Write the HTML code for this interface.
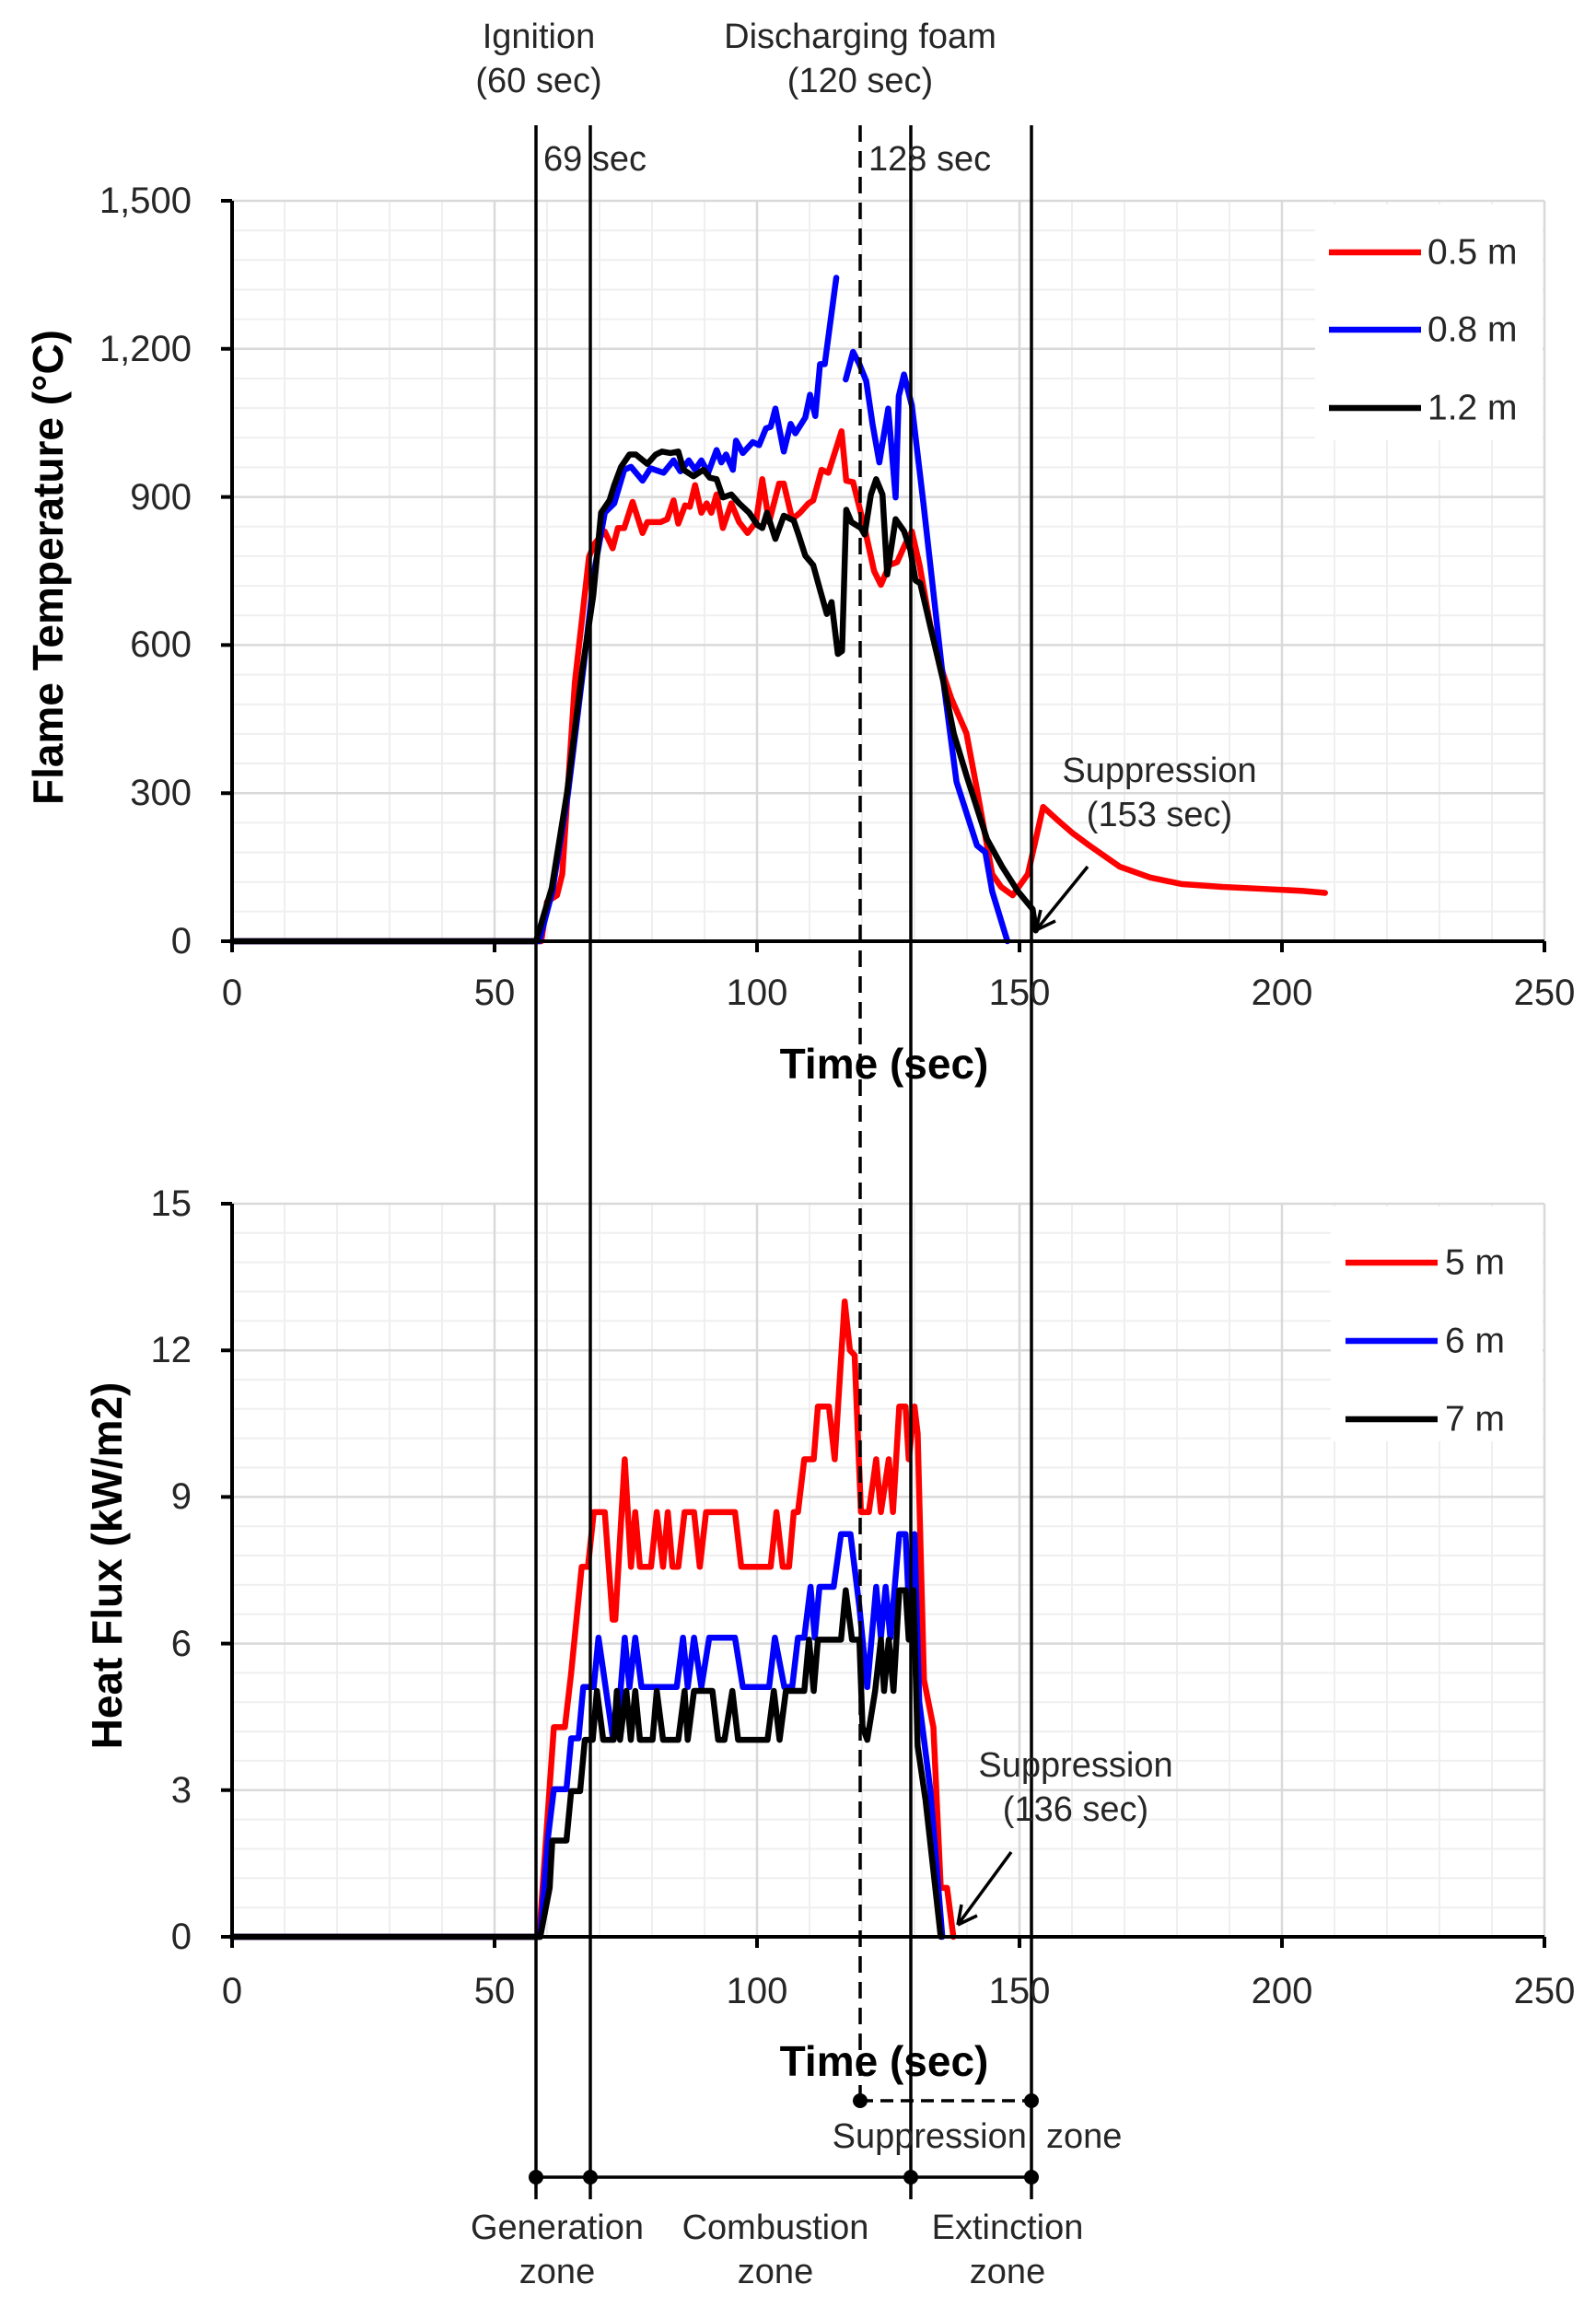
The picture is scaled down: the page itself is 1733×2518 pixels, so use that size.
<!DOCTYPE html>
<html><head><meta charset="utf-8"><style>
html,body{margin:0;padding:0;background:#fff;}
svg{display:block;font-family:"Liberation Sans",Arial,sans-serif;}
</style></head><body>
<svg width="1733" height="2518" viewBox="0 0 1733 2518" xmlns="http://www.w3.org/2000/svg">
<!-- TOP GRID -->
<g stroke="#efefef" stroke-width="2" fill="none">
<path d="M309 218V1022M366 218V1022M423 218V1022M480 218V1022M594 218V1022M651 218V1022M708 218V1022M765 218V1022M879 218V1022M936 218V1022M993 218V1022M1050 218V1022M1164 218V1022M1221 218V1022M1278 218V1022M1335 218V1022M1449 218V1022M1506 218V1022M1563 218V1022M1620 218V1022"/>
<path d="M252 989.8H1677M252 957.7H1677M252 925.5H1677M252 893.4H1677M252 829H1677M252 796.9H1677M252 764.7H1677M252 732.6H1677M252 668.2H1677M252 636.1H1677M252 603.9H1677M252 571.8H1677M252 507.4H1677M252 475.3H1677M252 443.1H1677M252 411H1677M252 346.6H1677M252 314.5H1677M252 282.3H1677M252 250.2H1677"/>
</g>
<g stroke="#d9d9d9" stroke-width="2.5" fill="none">
<path d="M537 218V1022M822 218V1022M1107 218V1022M1392 218V1022M1677 218V1022"/>
<path d="M252 861.2H1677M252 700.4H1677M252 539.6H1677M252 378.8H1677M252 218H1677"/>
</g>
<rect x="1428" y="222" width="247" height="256" fill="#fff"/>
<!-- BOTTOM GRID -->
<g stroke="#efefef" stroke-width="2" fill="none">
<path d="M309 1307V2103M366 1307V2103M423 1307V2103M480 1307V2103M594 1307V2103M651 1307V2103M708 1307V2103M765 1307V2103M879 1307V2103M936 1307V2103M993 1307V2103M1050 1307V2103M1164 1307V2103M1221 1307V2103M1278 1307V2103M1335 1307V2103M1449 1307V2103M1506 1307V2103M1563 1307V2103M1620 1307V2103"/>
<path d="M252 2071.2H1677M252 2039.3H1677M252 2007.5H1677M252 1975.6H1677M252 1911.9H1677M252 1880.1H1677M252 1848.2H1677M252 1816.4H1677M252 1752.7H1677M252 1720.9H1677M252 1689H1677M252 1657.2H1677M252 1593.5H1677M252 1561.7H1677M252 1529.8H1677M252 1498H1677M252 1434.3H1677M252 1402.5H1677M252 1370.6H1677M252 1338.8H1677"/>
</g>
<g stroke="#d9d9d9" stroke-width="2.5" fill="none">
<path d="M537 1307V2103M822 1307V2103M1107 1307V2103M1392 1307V2103M1677 1307V2103"/>
<path d="M252 1943.8H1677M252 1784.6H1677M252 1625.4H1677M252 1466.2H1677M252 1307H1677"/>
</g>
<rect x="1445" y="1310" width="230" height="255" fill="#fff"/>

<!-- TOP SERIES -->
<g transform="translate(252,1022) scale(5.7,-0.536)" fill="none" stroke-width="6.5" stroke-linejoin="round" stroke-linecap="round">
<polyline vector-effect="non-scaling-stroke" stroke="#ff0000" points="0,0 58.9,0 60,80 61.9,93 62.9,136 65.3,524 68,779 69.1,806 71,830 72.5,796 73.5,837 74.7,837 76.3,890 78.2,827 79.1,849 81.6,849 82.9,855 84.1,893 85,846 86.3,883 87.2,880 88.2,924 89.4,868 90.4,887 91.3,868 92.3,905 93.5,837 95.1,887 96.6,849 98.2,827 99.8,849 101,936 102.3,849 104.2,927 105.1,927 106.7,855 108.2,868 109.8,887 110.7,893 112.3,955 113.6,949 116.1,1033 117,933 118.3,930 120.5,837 122.3,750 123.6,722 125.2,762 126.7,768 128.3,806 129.5,830 131,760 133,640 135.5,540 137,492 139.9,421 141.9,307 144.8,136 146.5,110 148.7,93 151.6,136 154.5,272 157.4,244 160,220 163.3,194 169.1,151 174.9,129 180.8,116 188.6,110 196.5,106 204,102 208.2,98"/>
<polyline vector-effect="non-scaling-stroke" stroke="#0000ff" points="0,0 58.5,0 61,100 64,300 67,560 69.1,756 71,868 72.8,887 74.7,955 76,961 78.2,933 79.7,958 82.2,949 84.1,974 85.4,952 87,974 88.2,955 89.4,974 90.7,949 92.3,995 93.2,970 94.1,986 95.4,955 96,1014 97.3,989 99.2,1011 100.4,1005 101.7,1039 102.6,1042 103.5,1079 105.1,992 106.4,1048 107.3,1029 109.2,1061 110.1,1107 111.1,1064 112,1169 112.9,1169 115.1,1344"/>
<polyline vector-effect="non-scaling-stroke" stroke="#0000ff" points="116.9,1138 118.3,1194 119.5,1169 120.8,1135 122,1048 123.3,970 125,1079 126.4,899 127,1104 128,1148 129.5,1085 131.7,887 135.5,526 138,323 141.9,194 143.5,180 144.8,101 147.7,0"/>
<polyline vector-effect="non-scaling-stroke" stroke="#000" points="0,0 57.9,0 60.9,108 63.8,300 66.7,549 68.8,700 70.3,868 71.9,893 72.8,924 74.1,961 75.7,986 76.9,986 79.1,967 80.7,986 81.9,992 83.5,989 85,992 86,955 87.9,942 89.8,955 91,939 92.3,936 93.5,899 95.1,905 96.6,887 98.5,868 100.1,843 101,837 101.9,868 103.5,815 105.1,862 107,852 107.9,824 109.2,781 110.7,762 112,712 113.3,663 114.2,687 115.4,582 116.2,588 117,874 118,849 119.8,837 120.5,824 121.7,905 122.7,936 123.9,905 124.8,743 126.4,855 128,831 129.2,793 130.2,731 131.1,725 133,638 135.5,526 137.5,420 139.9,336 143.8,207 146.7,151 149.7,101 152.5,65 153.1,22"/>
</g>

<!-- BOTTOM SERIES -->
<g transform="translate(252,2103) scale(5.7,-53.07)" fill="none" stroke-width="6.5" stroke-linejoin="round" stroke-linecap="round">
<polyline vector-effect="non-scaling-stroke" stroke="#ff0000" points="0,0 58.5,0 61.3,4.29 63.4,4.29 64.6,5.4 66.6,7.57 67.8,7.57 68.9,8.69 71,8.69 72.5,6.49 73,6.49 74.8,9.77 76,7.57 76.8,8.69 77.7,7.57 79.8,7.57 80.9,8.69 82.1,7.57 83,8.69 83.9,7.57 85,7.57 86.2,8.69 88,8.69 89.1,7.57 90.3,8.69 95.8,8.69 97,7.57 102.6,7.57 103.7,8.69 104.9,7.57 106.1,7.57 107,8.69 107.8,8.69 109,9.77 110.8,9.77 111.6,10.85 113.7,10.85 114.8,9.77 116.7,13 117.7,12 118.6,11.9 119.8,8.69 121.3,8.69 122.7,9.77 123.6,8.69 125.1,9.77 125.9,8.69 127.1,10.85 128.3,10.85 128.9,9.77 130,10.85 130.6,10.3 131.8,5.26 133.6,4.29 135,1 136.2,1 137.4,0"/>
<polyline vector-effect="non-scaling-stroke" stroke="#0000ff" points="0,0 58.7,0 60.2,2.05 61.3,3.02 63.7,3.02 64.6,4.06 66,4.06 66.9,5.11 68.9,5.11 69.8,6.12 72.5,4.1 73.3,4.1 74.8,6.12 75.7,5.11 76.8,6.12 78,5.11 84.7,5.11 85.9,6.12 86.8,5.11 88,6.12 89.4,5.11 90.9,6.12 95.8,6.12 97.3,5.11 102.3,5.11 103.4,6.12 105.2,5.11 106.7,5.11 107.8,6.12 109,6.12 110.2,7.16 111,6.12 111.9,7.16 114.6,7.16 116,8.24 117.8,8.24 119.5,6.75 121,5.11 122.7,7.16 123.6,6.12 124.5,7.16 125.4,6.12 127.1,8.24 128.3,8.24 129.2,6.12 130,8.24 130.9,4.81 133,3.02 135.3,0"/>
<polyline vector-effect="non-scaling-stroke" stroke="#000" points="0,0 58.7,0 60.5,1 61,1.97 63.7,1.97 64.6,2.98 66.3,2.98 67.2,4.03 68.7,4.03 69.5,5.03 70.7,4.03 72.7,4.03 73.3,5.03 73.9,4.03 75.1,5.03 75.96,4.03 76.8,5.03 77.7,4.03 80.1,4.03 80.9,5.03 82.1,4.03 85,4.03 86.2,5.03 86.8,4.03 88,5.03 91.5,5.03 92.6,4.03 93.8,4.03 95.3,5.03 96.4,4.03 102,4.03 103.2,5.03 104.3,4.03 105.5,5.03 109,5.03 109.9,6.08 110.8,5.03 111.6,6.08 116,6.08 116.9,7.09 118.1,6.08 119.5,6.08 120.1,4.29 121,4.03 122.5,5.03 123.6,6.08 124.2,5.03 125.1,6.08 126,5.03 127.1,7.09 128.3,7.09 128.9,6.08 129.8,7.09 130.6,3.9 132.1,2.8 135,0"/>
</g>

<!-- AXES -->
<g stroke="#000" stroke-width="4" fill="none">
<path d="M252 218V1022H1677"/>
<path d="M240 218H252M240 378.8H252M240 539.6H252M240 700.4H252M240 861.2H252M240 1022H252"/>
<path d="M252 1022V1034M537 1022V1034M822 1022V1034M1107 1022V1034M1392 1022V1034M1677 1022V1034"/>
<path d="M252 1307V2103H1677"/>
<path d="M240 1307H252M240 1466.2H252M240 1625.4H252M240 1784.6H252M240 1943.8H252M240 2103H252"/>
<path d="M252 2103V2115M537 2103V2115M822 2103V2115M1107 2103V2115M1392 2103V2115M1677 2103V2115"/>
</g>

<!-- VERTICAL MARKERS -->
<g stroke="#000" stroke-width="3.5" fill="none">
<path d="M582 136V2388M641 136V2388M989 136V2388M1120 136V2388"/>
<path d="M934 136V2281" stroke-dasharray="18,10"/>
<path d="M582 2364H1120"/>
<path d="M934 2281H1120" stroke-dasharray="14,8"/>
<path d="M1181 941L1125 1010M1125 1010L1130 988M1125 1010L1146 1000"/>
<path d="M1098 2011L1040 2090M1040 2090L1044 2068M1040 2090L1061 2080"/>
</g>
<g fill="#000">
<circle cx="582" cy="2364" r="8"/><circle cx="641" cy="2364" r="8"/><circle cx="989" cy="2364" r="8"/><circle cx="1120" cy="2364" r="8"/>
<circle cx="934" cy="2281" r="8"/><circle cx="1120" cy="2281" r="8"/>
</g>

<!-- LEGENDS -->
<g stroke-width="6.5">
<path d="M1443 274H1543" stroke="#ff0000"/><path d="M1443 358H1543" stroke="#0000ff"/><path d="M1443 443H1543" stroke="#000"/>
<path d="M1461 1371H1561" stroke="#ff0000"/><path d="M1461 1456H1561" stroke="#0000ff"/><path d="M1461 1541H1561" stroke="#000"/>
</g>
<g font-size="39" fill="#262626" dominant-baseline="central">
<text x="1550" y="274">0.5 m</text><text x="1550" y="358">0.8 m</text><text x="1550" y="443">1.2 m</text>
<text x="1569" y="1371">5 m</text><text x="1569" y="1456">6 m</text><text x="1569" y="1541">7 m</text>
</g>

<!-- TICK LABELS -->
<g font-size="40" fill="#262626" dominant-baseline="central" text-anchor="end">
<text x="208" y="218">1,500</text><text x="208" y="379">1,200</text><text x="208" y="540">900</text><text x="208" y="700">600</text><text x="208" y="861">300</text><text x="208" y="1022">0</text>
<text x="208" y="1307">15</text><text x="208" y="1466">12</text><text x="208" y="1625">9</text><text x="208" y="1785">6</text><text x="208" y="1944">3</text><text x="208" y="2103">0</text>
</g>
<g font-size="40" fill="#262626" dominant-baseline="central" text-anchor="middle">
<text x="252" y="1078">0</text><text x="537" y="1078">50</text><text x="822" y="1078">100</text><text x="1107" y="1078">150</text><text x="1392" y="1078">200</text><text x="1677" y="1078">250</text>
<text x="252" y="2162">0</text><text x="537" y="2162">50</text><text x="822" y="2162">100</text><text x="1107" y="2162">150</text><text x="1392" y="2162">200</text><text x="1677" y="2162">250</text>
</g>

<!-- AXIS TITLES -->
<g font-size="46" font-weight="bold" fill="#000" dominant-baseline="central" text-anchor="middle">
<text x="960" y="1155">Time (sec)</text>
<text x="960" y="2238">Time (sec)</text>
<text transform="translate(52,616) rotate(-90)">Flame Temperature (°C)</text>
<text transform="translate(116,1700) rotate(-90)">Heat Flux (kW/m2)</text>
</g>

<!-- ANNOTATIONS -->
<g font-size="38" fill="#262626" dominant-baseline="central" text-anchor="middle">
<text x="585" y="40">Ignition</text><text x="585" y="88">(60 sec)</text>
<text x="934" y="40">Discharging foam</text><text x="934" y="88">(120 sec)</text>
<text x="1259" y="837">Suppression</text><text x="1259" y="885">(153 sec)</text>
<text x="1168" y="1917">Suppression</text><text x="1168" y="1965">(136 sec)</text>
<text x="1061" y="2320" xml:space="preserve">Suppression  zone</text>
<text x="605" y="2419">Generation</text><text x="605" y="2467">zone</text>
<text x="842" y="2419">Combustion</text><text x="842" y="2467">zone</text>
<text x="1094" y="2419">Extinction</text><text x="1094" y="2467">zone</text>
</g>
<g font-size="38" fill="#262626" dominant-baseline="central">
<text x="590" y="173">69 sec</text>
<text x="943" y="173">128 sec</text>
</g>
</svg>
</body></html>
